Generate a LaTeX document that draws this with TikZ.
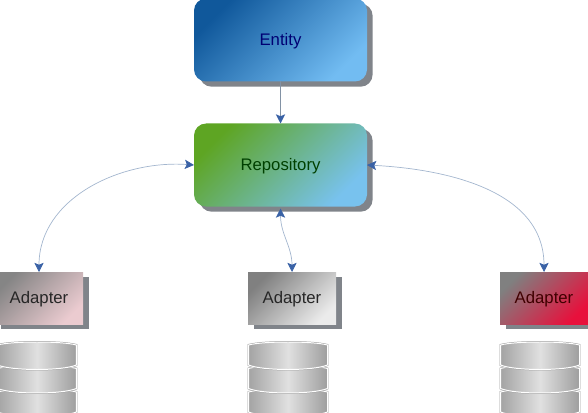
\documentclass[tikz,border=0pt]{standalone}
\usepackage{fontspec}
\setmainfont{Liberation Sans}
\usetikzlibrary{arrows.meta,positioning,shadows}
\definecolor{tipblue}{HTML}{3A62A6}
\definecolor{curveblue}{HTML}{A3B6CE}
\definecolor{shadowgray}{HTML}{80848A}
\definecolor{entitytop}{HTML}{10589B}
\definecolor{entitylow}{HTML}{72BCF2}
\definecolor{repotop}{HTML}{5EA523}
\definecolor{repolow}{HTML}{78C2EE}
\definecolor{pinklow}{HTML}{EBCBD0}
\definecolor{redlow}{HTML}{E8103C}
\tikzset{
  >={Stealth[length=2.3mm,width=2.3mm,inset=0.5mm,color=tipblue]},
  box/.style 2 args={top color=#1, bottom color=#2, shading angle=45,
    minimum width=4.325cm, minimum height=2.075cm, rounded corners=0.3cm, inner sep=0pt, outer sep=0pt,
    font=\fontsize{11.9}{14}\selectfont, text height=10.6pt, text depth=2.5pt,
    drop shadow={shadow xshift=0.14cm, shadow yshift=-0.13cm, fill=shadowgray, opacity=1}},
  adapter/.style 2 args={box={#1}{#2}, rounded corners=0pt, minimum width=2.2cm, minimum height=1.3cm},
  curve/.style={<->, draw=curveblue, line width=0.5pt},
  disk/.style={left color=black!36, right color=black!38, middle color=black!12,
    preaction={draw=black!38, line width=1.4pt}, draw=white, line width=0.7pt},
  pics/stack/.style={code={
    \foreach \ytop in {-47,-23.5,0}{
      \path[disk, shift={(0,\ytop*0.025)}, scale=0.025]
        (-39.5,-3) .. controls (-25,1) and (25,1) .. (39.5,-3) -- (39.5,-23)
        .. controls (25,-29) and (-25,-29) .. (-39.5,-23) -- cycle;
    }
  }},
}
\begin{document}
\begin{tikzpicture}
  \useasboundingbox (0,0) rectangle (14.7,10.3);

  \node[box={entitytop}{entitylow}, text={blue!45!black}] (entity) at (7.0125,9.3) {Entity};
  \node[box={repotop}{repolow}, text={green!25!black}, below=1.05cm of entity] (repo) {Repository};

  \node[adapter={black!48}{pinklow}, text=black!85] (adleft) at (0.975,2.85) {Adapter};
  \node[adapter={black!50}{black!8}, text=black!85] (admid) at (7.3,2.85) {Adapter};
  \node[adapter={black!50}{redlow}, text=red!25!black] (adright) at (13.6,2.85) {Adapter};

  \pic at (0.925,1.75) {stack};
  \pic at (7.2,1.75) {stack};
  \pic at (13.5,1.75) {stack};

  \draw[->, draw=black!20!curveblue, line width=0.7pt] (entity) -- (repo);
  \draw[curve] (repo.west) to[out=176, in=90] (adleft.north);
  \draw[curve] (repo.east) to[out=-3, in=90] (adright.north);
  \draw[curve] ([yshift=-0.05cm]repo.south) to[out=-90, in=90] (admid.north);
\end{tikzpicture}
\end{document}
